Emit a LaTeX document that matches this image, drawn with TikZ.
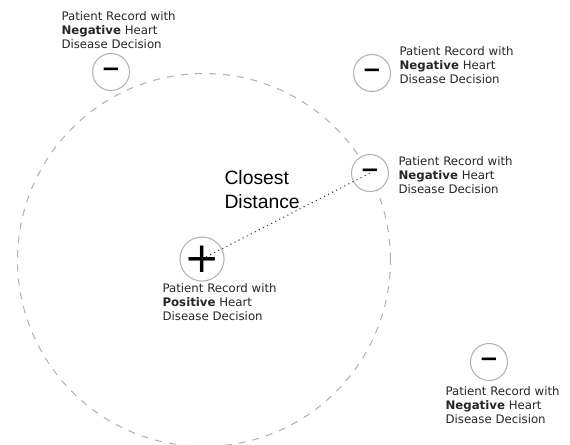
\documentclass[tikz,border=0pt]{standalone}
\usepackage{fontspec}
\setmainfont{DejaVu Sans}
\newfontfamily\closefont{Liberation Sans}
\usetikzlibrary{positioning}

\begin{document}
\begin{tikzpicture}[x=0.02cm,y=-0.02cm,semithick]
  \tikzstyle{record}=[circle,draw=gray!60,fill=white,minimum size=0.74cm,inner sep=0pt,text=black]
  \tikzstyle{info}=[align=left,anchor=west,inner sep=0pt,text=black!85,font=\fontsize{6.7}{8}\selectfont]
  \useasboundingbox (0,0) rectangle (570,444);

  \coordinate (c) at (204,260);
  \draw[gray!60,dash pattern=on 4pt off 4pt] (c) circle (3.73cm);

  \node[record] (n1) at (111,72)  {\fontsize{13}{13}\selectfont\bfseries −};
  \node[record] (n2) at (372,73)  {\fontsize{13}{13}\selectfont\bfseries −};
  \node[record] (n3) at (370,173) {\fontsize{13}{13}\selectfont\bfseries −};
  \node[record] (n4) at (489,362) {\fontsize{13}{13}\selectfont\bfseries −};
  \node[record] (p)  at (202,259) {\fontsize{24}{24}\selectfont +};

  \draw[dotted,black!80] (p.center) -- (n3.center);

  \node[info] (l1) at (61,30)  {Patient Record with\\\textbf{Negative} Heart\\Disease Decision};
  \node[info] (l2) at (399,65) {Patient Record with\\\textbf{Negative} Heart\\Disease Decision};
  \node[info] (l3) at (398,175) {Patient Record with\\\textbf{Negative} Heart\\Disease Decision};
  \node[info] (l4) at (445,405) {Patient Record with\\\textbf{Negative} Heart\\Disease Decision};
  \node[info] (lp) at (162,302) {Patient Record with\\\textbf{Positive} Heart\\Disease Decision};

  \node[align=left,anchor=west,inner sep=0pt,font=\closefont\fontsize{11}{13.6}\selectfont] (dist) at (224,190) {Closest\\Distance};
\end{tikzpicture}
\end{document}
